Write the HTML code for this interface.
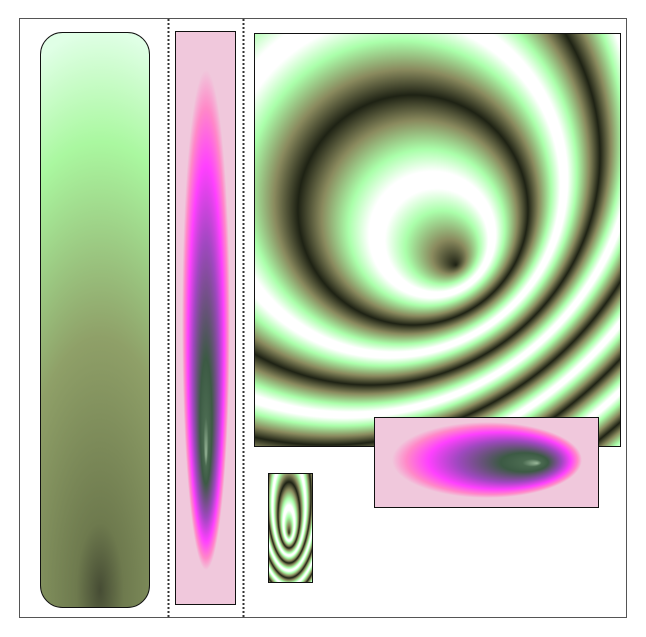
<!DOCTYPE html>
<html><head><meta charset="utf-8"><style>html,body{margin:0;padding:0;background:#fff;}svg{display:block}</style></head>
<body>
<svg width="646" height="637" viewBox="0 0 646 637" xmlns="http://www.w3.org/2000/svg">
<defs>
  <radialGradient id="rings" gradientUnits="userSpaceOnUse" cx="413" cy="210" r="115" fx="456" fy="265" spreadMethod="repeat">
    <stop offset="0" stop-color="#1e2214"/>
    <stop offset="0.15" stop-color="#8a8a5e"/>
    <stop offset="0.32" stop-color="#aaffaa"/>
    <stop offset="0.45" stop-color="#ffffff"/>
    <stop offset="0.55" stop-color="#ffffff"/>
    <stop offset="0.68" stop-color="#aaffaa"/>
    <stop offset="0.85" stop-color="#8a8a5e"/>
    <stop offset="1" stop-color="#1e2214"/>
  </radialGradient>
  <radialGradient id="rings-small" gradientUnits="userSpaceOnUse" cx="0" cy="0" r="11" fx="0" fy="6" spreadMethod="repeat" gradientTransform="translate(289 515) scale(1 3)">
    <stop offset="0" stop-color="#1e2214"/>
    <stop offset="0.15" stop-color="#8a8a5e"/>
    <stop offset="0.32" stop-color="#aaffaa"/>
    <stop offset="0.45" stop-color="#ffffff"/>
    <stop offset="0.55" stop-color="#ffffff"/>
    <stop offset="0.68" stop-color="#aaffaa"/>
    <stop offset="0.85" stop-color="#8a8a5e"/>
    <stop offset="1" stop-color="#1e2214"/>
  </radialGradient>
  <radialGradient id="pink-h" gradientUnits="userSpaceOnUse" cx="0" cy="0" r="95" fx="50" fy="8" gradientTransform="translate(487 460) scale(1 0.4)">
    <stop offset="0" stop-color="#9ab89a"/>
    <stop offset="0.1" stop-color="#4a6a50"/>
    <stop offset="0.25" stop-color="#3c5a44"/>
    <stop offset="0.55" stop-color="#a048c0"/>
    <stop offset="0.75" stop-color="#ff40ff"/>
    <stop offset="0.9" stop-color="#ff88c8"/>
    <stop offset="1" stop-color="#f0c8dc"/>
  </radialGradient>
  <radialGradient id="pink-v" gradientUnits="userSpaceOnUse" cx="0" cy="0" r="250" fx="0" fy="135" gradientTransform="translate(206 320) scale(0.096 1)">
    <stop offset="0" stop-color="#9ab89a"/>
    <stop offset="0.1" stop-color="#4a6a50"/>
    <stop offset="0.25" stop-color="#3c5a44"/>
    <stop offset="0.55" stop-color="#a048c0"/>
    <stop offset="0.75" stop-color="#ff40ff"/>
    <stop offset="0.9" stop-color="#ff88c8"/>
    <stop offset="1" stop-color="#f0c8dc"/>
  </radialGradient>
  <radialGradient id="green-bar" gradientUnits="userSpaceOnUse" cx="0" cy="0" r="560" fx="0" fy="0" gradientTransform="translate(100 590) scale(0.35 1)">
    <stop offset="0" stop-color="#464c34"/>
    <stop offset="0.12" stop-color="#6e7a4e"/>
    <stop offset="0.45" stop-color="#8fa068"/>
    <stop offset="0.8" stop-color="#aaf8a0"/>
    <stop offset="1" stop-color="#e0ffe6"/>
  </radialGradient>
</defs>
<rect x="19.5" y="18.5" width="607" height="599" fill="#fff" stroke="#555" stroke-width="1"/>
<line x1="168.5" y1="19" x2="168.5" y2="617" stroke="#333" stroke-width="2" stroke-dasharray="2,2"/>
<line x1="243.5" y1="19" x2="243.5" y2="617" stroke="#333" stroke-width="2" stroke-dasharray="2,2"/>
<rect x="40.5" y="32.5" width="109" height="575" rx="22" fill="url(#green-bar)" stroke="#111" stroke-width="1"/>
<rect x="175.5" y="31.5" width="60" height="573" fill="#f0c8dc" stroke="#111" stroke-width="1"/>
<ellipse cx="206" cy="320" rx="24" ry="250" fill="url(#pink-v)"/>
<rect x="254.5" y="33.5" width="366" height="413" fill="url(#rings)" stroke="#111" stroke-width="1"/>
<rect x="268.5" y="473.5" width="44" height="109" fill="url(#rings-small)" stroke="#111" stroke-width="1"/>
<rect x="374.5" y="417.5" width="224" height="90" fill="#f0c8dc" stroke="#111" stroke-width="1"/>
<ellipse cx="487" cy="460" rx="95" ry="38" fill="url(#pink-h)"/>
</svg>
</body></html>
